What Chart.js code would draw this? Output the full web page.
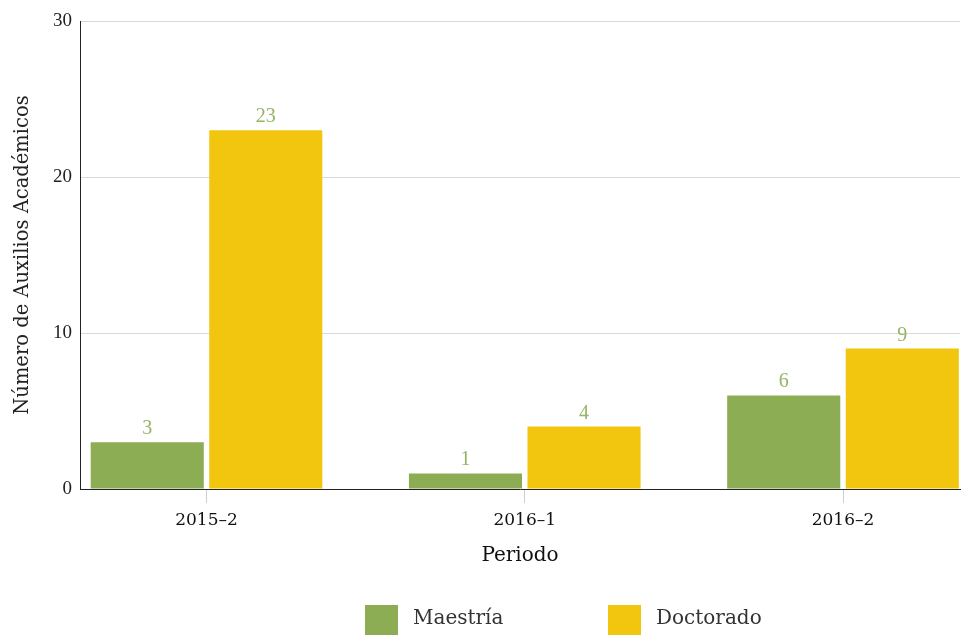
<!DOCTYPE html>
<html>
<head>
<meta charset="utf-8">
<script src="https://cdn.jsdelivr.net/npm/chart.js@4"></script>
<style>
  html, body { margin: 0; padding: 0; background: #fff; overflow: hidden; }
  #wrap { width: 961px; height: 635px; }
</style>
</head>
<body>
<div id="wrap"><canvas id="auxChart" width="961" height="635"></canvas></div>
<script>
const periods = ["2015–2", "2016–1", "2016–2"];
const maestria = [3, 1, 6];
const doctorado = [23, 4, 9];
const yTicks = [0, 10, 20, 30];

const GREEN = "#8cad53";
const YELLOW = "#f2c60f";

// put the value just above each bar
const valueLabels = {
  id: "valueLabels",
  afterDatasetsDraw(chart) {
    const ctx = chart.ctx;
    ctx.save();
    ctx.font = "20px 'Liberation Serif'";
    ctx.fillStyle = "#93b565";
    ctx.textAlign = "center";
    ctx.textBaseline = "alphabetic";
    chart.data.datasets.forEach((ds, i) => {
      chart.getDatasetMeta(i).data.forEach((bar, j) => {
        ctx.fillText(String(ds.data[j].y), bar.x, bar.y - 8);
      });
    });
    ctx.restore();
  }
};

// legend row under the axis title
const bottomLegend = {
  id: "bottomLegend",
  afterDraw(chart) {
    const ctx = chart.ctx;
    const boxX = [365, 608];
    ctx.save();
    ctx.font = "20px 'DejaVu Serif'";
    ctx.textBaseline = "middle";
    ctx.textAlign = "left";
    chart.data.datasets.forEach((ds, i) => {
      ctx.fillStyle = ds.backgroundColor;
      ctx.fillRect(boxX[i], 605, 33, 33);
      ctx.fillStyle = "#333";
      ctx.fillText(ds.label, boxX[i] + 48, 619);
    });
    ctx.restore();
  }
};

new Chart(document.getElementById("auxChart"), {
  type: "bar",
  data: {
    datasets: [
      {
        label: "Maestría",
        data: maestria.map((v, i) => ({ x: i, y: v })),
        backgroundColor: GREEN
      },
      {
        label: "Doctorado",
        data: doctorado.map((v, i) => ({ x: i, y: v })),
        backgroundColor: YELLOW
      }
    ]
  },
  options: {
    responsive: false,
    animation: false,
    categoryPercentage: 0.745,
    barPercentage: 0.954,
    layout: { padding: { top: 21, right: 1, bottom: 63, left: 0 } },
    plugins: {
      legend: { display: false },
      tooltip: { enabled: false }
    },
    scales: {
      x: {
        type: "linear",
        offset: false,
        min: -0.3975,
        max: 2.3676,
        afterBuildTicks: s => { s.ticks = periods.map((p, i) => ({ value: i })); },
        afterFit: s => { s.height = 83; },
        ticks: {
          callback: (v) => periods[v],
          color: "#111",
          font: { family: "'DejaVu Serif'", size: 17, weight: "500" },
          padding: 7
        },
        grid: { offset: false, drawOnChartArea: false, color: "#cfcfcf", tickLength: 14 },
        border: { color: "#222", width: 1 },
        title: {
          display: true,
          text: "Periodo",
          color: "#111",
          font: { family: "'DejaVu Serif'", size: 20 }
        }
      },
      y: {
        min: 0,
        max: 30,
        afterBuildTicks: s => { s.ticks = yTicks.map(v => ({ value: v })); },
        afterFit: s => { s.width = 80; },
        ticks: {
          color: "#222",
          font: { family: "'Liberation Serif'", size: 19 },
          padding: 8
        },
        grid: { color: "#d9d9d9", drawTicks: false },
        border: { color: "#222", width: 1 },
        title: {
          display: true,
          text: "Número de Auxilios Académicos",
          color: "#222",
          font: { family: "'DejaVu Serif'", size: 19.5 },
          padding: { top: 11, bottom: 0 }
        }
      }
    }
  },
  plugins: [valueLabels, bottomLegend]
});
</script>
</body>
</html>
